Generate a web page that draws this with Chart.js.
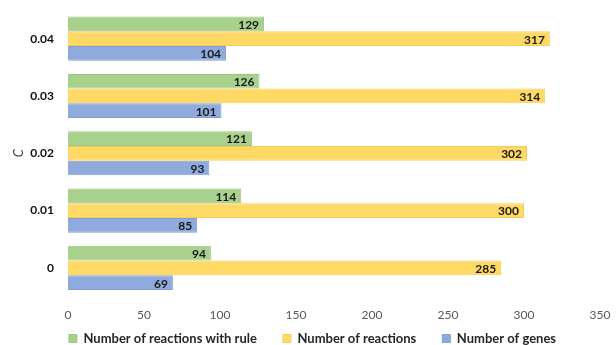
<!DOCTYPE html>
<html>
<head>
<meta charset="utf-8">
<script src="https://cdn.jsdelivr.net/npm/chart.js@4"></script>
<style>
  html, body { margin: 0; padding: 0; background: #fff; }
  #wrap { width: 616px; height: 345px; }
</style>
</head>
<body>
<div id="wrap"><canvas id="chart"></canvas></div>
<script>
// --- Datos ---
const categorias = ["0.04", "0.03", "0.02", "0.01", "0"];
const reaccionesConRegla = [129, 126, 121, 114, 94];
const reacciones = [317, 314, 302, 300, 285];
const genes = [104, 101, 93, 85, 69];
const nombres = ["Number of reactions with rule", "Number of reactions", "Number of genes"];

// --- Etiquetas al final de cada barra ---
const etiquetas = {
  id: "etiquetas",
  afterDatasetsDraw(chart) {
    const ctx = chart.ctx;
    ctx.save();
    ctx.font = "bold 12px Lato, sans-serif";
    ctx.fillStyle = "#1a1a1a";
    ctx.textAlign = "right";
    ctx.textBaseline = "middle";
    chart.data.datasets.forEach((ds, i) => {
      const meta = chart.getDatasetMeta(i);
      meta.data.forEach((bar, j) => {
        ctx.fillText(ds.data[j], bar.x - 5, bar.y + 1);
      });
    });
    ctx.restore();
  }
};

// --- Mover la leyenda (el padding de la leyenda separa los items) ---
const moverLeyenda = {
  id: "moverLeyenda",
  afterLayout(chart) {
    chart.legend.top -= 27;
    chart.legend.bottom -= 27;
    chart.legend.left += 10;
    chart.legend.right += 10;
  }
};

const ctx = document.getElementById("chart").getContext("2d");
new Chart(ctx, {
  type: "bar",
  data: {
    labels: categorias,
    datasets: [
      { label: nombres[0], data: reaccionesConRegla, backgroundColor: "#a9d18e", borderColor: "#9cc680", borderWidth: 1 },
      { label: nombres[1], data: reacciones, backgroundColor: "#ffd966", borderColor: "#f3cd58", borderWidth: 1 },
      { label: nombres[2], data: genes, backgroundColor: "#8faadc", borderColor: "#829ed2", borderWidth: 1 }
    ]
  },
  options: {
    indexAxis: "y",
    responsive: true,
    maintainAspectRatio: false,
    animation: false,
    layout: { autoPadding: false, padding: { top: 10, right: 16, bottom: -37, left: 5 } },
    datasets: { bar: { categoryPercentage: 0.77, barPercentage: 1 } },
    scales: {
      x: {
        min: 0, max: 350,
        afterFit(scale) { scale.paddingLeft = 0; scale.paddingRight = 0; },
        ticks: { stepSize: 50, color: "#595959", font: { family: "Lato, sans-serif", size: 12 }, padding: 11 },
        grid: { display: false, drawTicks: false },
        border: { display: false }
      },
      y: {
        afterFit(scale) { scale.width = 63; scale.paddingTop = 0; scale.paddingBottom = 0; },
        ticks: { color: "#111", font: { family: "Lato, sans-serif", size: 12, weight: "bold" }, padding: 14 },
        grid: { display: false, drawTicks: false },
        border: { display: false },
        title: {
          display: true, text: "C", color: "#404040", padding: { top: 6, bottom: 2 },
          font: { family: "Lato, sans-serif", size: 13, style: "italic" }
        }
      }
    },
    plugins: {
      legend: {
        position: "bottom",
        labels: {
          boxWidth: 8, boxHeight: 8, padding: 26,
          color: "#262626",
          font: { family: "Lato, sans-serif", size: 13, weight: "bold" }
        }
      },
      tooltip: { enabled: false }
    }
  },
  plugins: [etiquetas, moverLeyenda]
});
</script>
</body>
</html>
